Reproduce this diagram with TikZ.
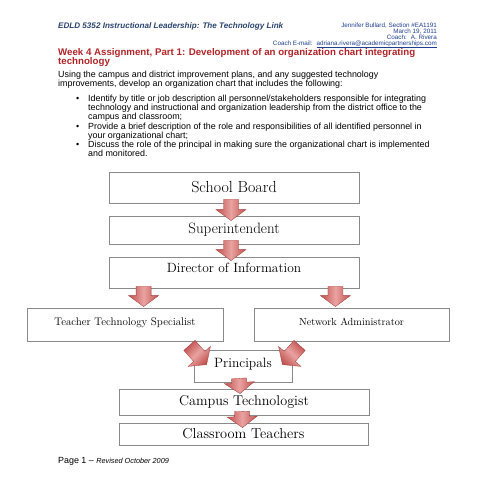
\documentclass[tikz,border=0pt]{standalone}
\usepackage{fontspec}
\usetikzlibrary{calc,positioning,shapes}
\newfontfamily\arial[Ligatures=TeX]{Liberation Sans}
\definecolor{headblue}{HTML}{2B4570}
\definecolor{coachblue}{HTML}{1F3F8F}
\definecolor{weekred}{HTML}{B22428}
\definecolor{boxgray}{HTML}{8A8A8A}
\definecolor{arrowdark}{HTML}{C0504D}
\definecolor{arrowlight}{HTML}{E9A3A1}
\definecolor{arrowedge}{HTML}{A23B38}
% fat shaded arrow from #2 to #3
\newcommand{\blockarrow}[3][]{%
  \coordinate (ba-s) at (#2);
  \coordinate (ba-e) at (#3);
  \coordinate (ba-h) at ($(ba-e)!11pt!(ba-s)$);
  \path[fatarrow,#1] ($(ba-s)!7.5pt!90:(ba-e)$) -- ($(ba-h)!7.5pt!90:(ba-e)$)
    -- ($(ba-h)!15pt!90:(ba-e)$) -- (ba-e) -- ($(ba-h)!15pt!-90:(ba-e)$)
    -- ($(ba-h)!7.5pt!-90:(ba-e)$) -- ($(ba-s)!7.5pt!-90:(ba-e)$) -- cycle;
}

\begin{document}
\begin{tikzpicture}[x=1pt,y=-1pt]
  \tikzstyle{orgbox} = [draw=boxgray,line width=0.8pt,fill=white,inner sep=0pt]
  \tikzstyle{fatarrow} = [left color=arrowdark,right color=arrowdark,middle color=arrowlight,draw=arrowedge,line width=0.3pt]
  \tikzstyle{pagetext} = [anchor=base west,inner sep=0pt,font=\arial\fontsize{8.9}{9.2}\selectfont]
  \tikzstyle{coachtext} = [anchor=base east,inner sep=0pt,text=coachblue,font=\arial\fontsize{6.3}{6.5}\selectfont]
  \fill[white] (0,0) rectangle (495,495);
  \useasboundingbox (0,0) rectangle (495,495);
  % Header
  \node[pagetext,text=headblue,font=\arial\bfseries\itshape\fontsize{8.1}{9}\selectfont] at (58,29) (course) {EDLD 5352 Instructional Leadership: The Technology Link};
  \node[coachtext] at (437,27.5) (name) {Jennifer Bullard, Section \#EA1191};
  \node[coachtext] at (437,33.5) (date) {March 19, 2011};
  \node[coachtext] at (437,39.5) (coach) {Coach:~ A. Rivera};
  \node[coachtext] at (437,45.5) (mail) {Coach E-mail:~ \underline{\smash{adriana.rivera@academicpartnerships.com}}};
  % Title
  \node[pagetext,text=weekred,font=\arial\bfseries\fontsize{9.7}{10}\selectfont] at (58,56) (title1) {Week 4 Assignment, Part 1: Development of an organization chart integrating};
  \node[pagetext,text=weekred,font=\arial\bfseries\fontsize{9.7}{10}\selectfont] at (58,65) (title2) {technology};
  % Instructions
  \node[pagetext] at (58,77.5) (intro1) {Using the campus and district improvement plans, and any suggested technology};
  \node[pagetext] at (58,86.5) (intro2) {improvements, develop an organization chart that includes the following:};
  \node[pagetext] at (76,101.5) (dot1) {\textbullet};
  \node[pagetext] at (88,101.5) (item1a) {Identify by title or job description all personnel/stakeholders responsible for integrating};
  \node[pagetext] at (88,110.7) (item1b) {technology and instructional and organization leadership from the district office to the};
  \node[pagetext] at (88,119.9) (item1c) {campus and classroom;};
  \node[pagetext] at (76,129.1) (dot2) {\textbullet};
  \node[pagetext] at (88,129.1) (item2a) {Provide a brief description of the role and responsibilities of all identified personnel in};
  \node[pagetext] at (88,138.3) (item2b) {your organizational chart;};
  \node[pagetext] at (76,147.5) (dot3) {\textbullet};
  \node[pagetext] at (88,147.5) (item3a) {Discuss the role of the principal in making sure the organizational chart is implemented};
  \node[pagetext] at (88,156.7) (item3b) {and monitored.};
  % Chart boxes
  \node[orgbox,minimum width=250pt,minimum height=31pt,font=\fontsize{16}{16}\selectfont] at (234,187.5) (sb) {School Board};
  \node[orgbox,minimum width=250pt,minimum height=28pt,font=\fontsize{15}{15}\selectfont] at (234,230) (si) {Superintendent};
  \node[orgbox,minimum width=250pt,minimum height=31pt,text depth=10pt,font=\fontsize{13.4}{14}\selectfont] at (234,272.5) (dir) {Director of Information};
  \node[orgbox,minimum width=196pt,minimum height=33pt,text depth=6pt,font=\fontsize{11}{12}\selectfont] at (125,324.5) (tts) {Teacher Technology Specialist};
  \node[orgbox,minimum width=195pt,minimum height=33pt,text depth=6pt,font=\fontsize{10.3}{12}\selectfont] at (351.5,324.5) (na) {Network Administrator};
  \node[orgbox,minimum width=98pt,minimum height=32pt,text depth=6pt,font=\fontsize{13.5}{14}\selectfont] at (243,366) (pr) {Principals};
  \node[orgbox,minimum width=250pt,minimum height=26pt,font=\fontsize{14.2}{15}\selectfont] at (244,402) (ct) {Campus Technologist};
  \node[orgbox,minimum width=249pt,minimum height=22pt,font=\fontsize{14.4}{15}\selectfont] at (243.5,434) (cl) {Classroom Teachers};
  % Arrows
  \blockarrow{[xshift=-3pt,yshift=4pt]sb.south}{[xshift=-3pt,yshift=-5pt]si.north}
  \blockarrow{[xshift=-3pt,yshift=4pt]si.south}{[xshift=-3pt,yshift=-4pt]dir.north}
  \coordinate (dl) at ([xshift=35pt,yshift=2pt]dir.south west);
  \coordinate (dr) at ([xshift=-24pt,yshift=2pt]dir.south east);
  \coordinate (dlend) at (dl |- tts.north);
  \coordinate (drend) at (dr |- na.north);
  \blockarrow{dl}{[yshift=1pt]dlend}
  \blockarrow{dr}{[yshift=1pt]drend}
  \blockarrow[shading angle=45]{[xshift=-34pt,yshift=-4pt]tts.south east}{[xshift=13pt,yshift=-15pt]pr.north west}
  \blockarrow[shading angle=-45]{[xshift=46pt,yshift=-4pt]na.south west}{[xshift=-10pt,yshift=-15pt]pr.north east}
  \blockarrow{[xshift=-4pt,yshift=4pt]pr.south}{[xshift=-4pt,yshift=-5pt]ct.north}
  \blockarrow{[xshift=-2pt,yshift=4pt]ct.south}{[xshift=-1pt,yshift=-5pt]cl.north}
  % Footer
  \node[pagetext] at (58,463) (page) {Page 1 – {\itshape\fontsize{7.3}{8}\selectfont Revised October 2009}};
\end{tikzpicture}
\end{document}
